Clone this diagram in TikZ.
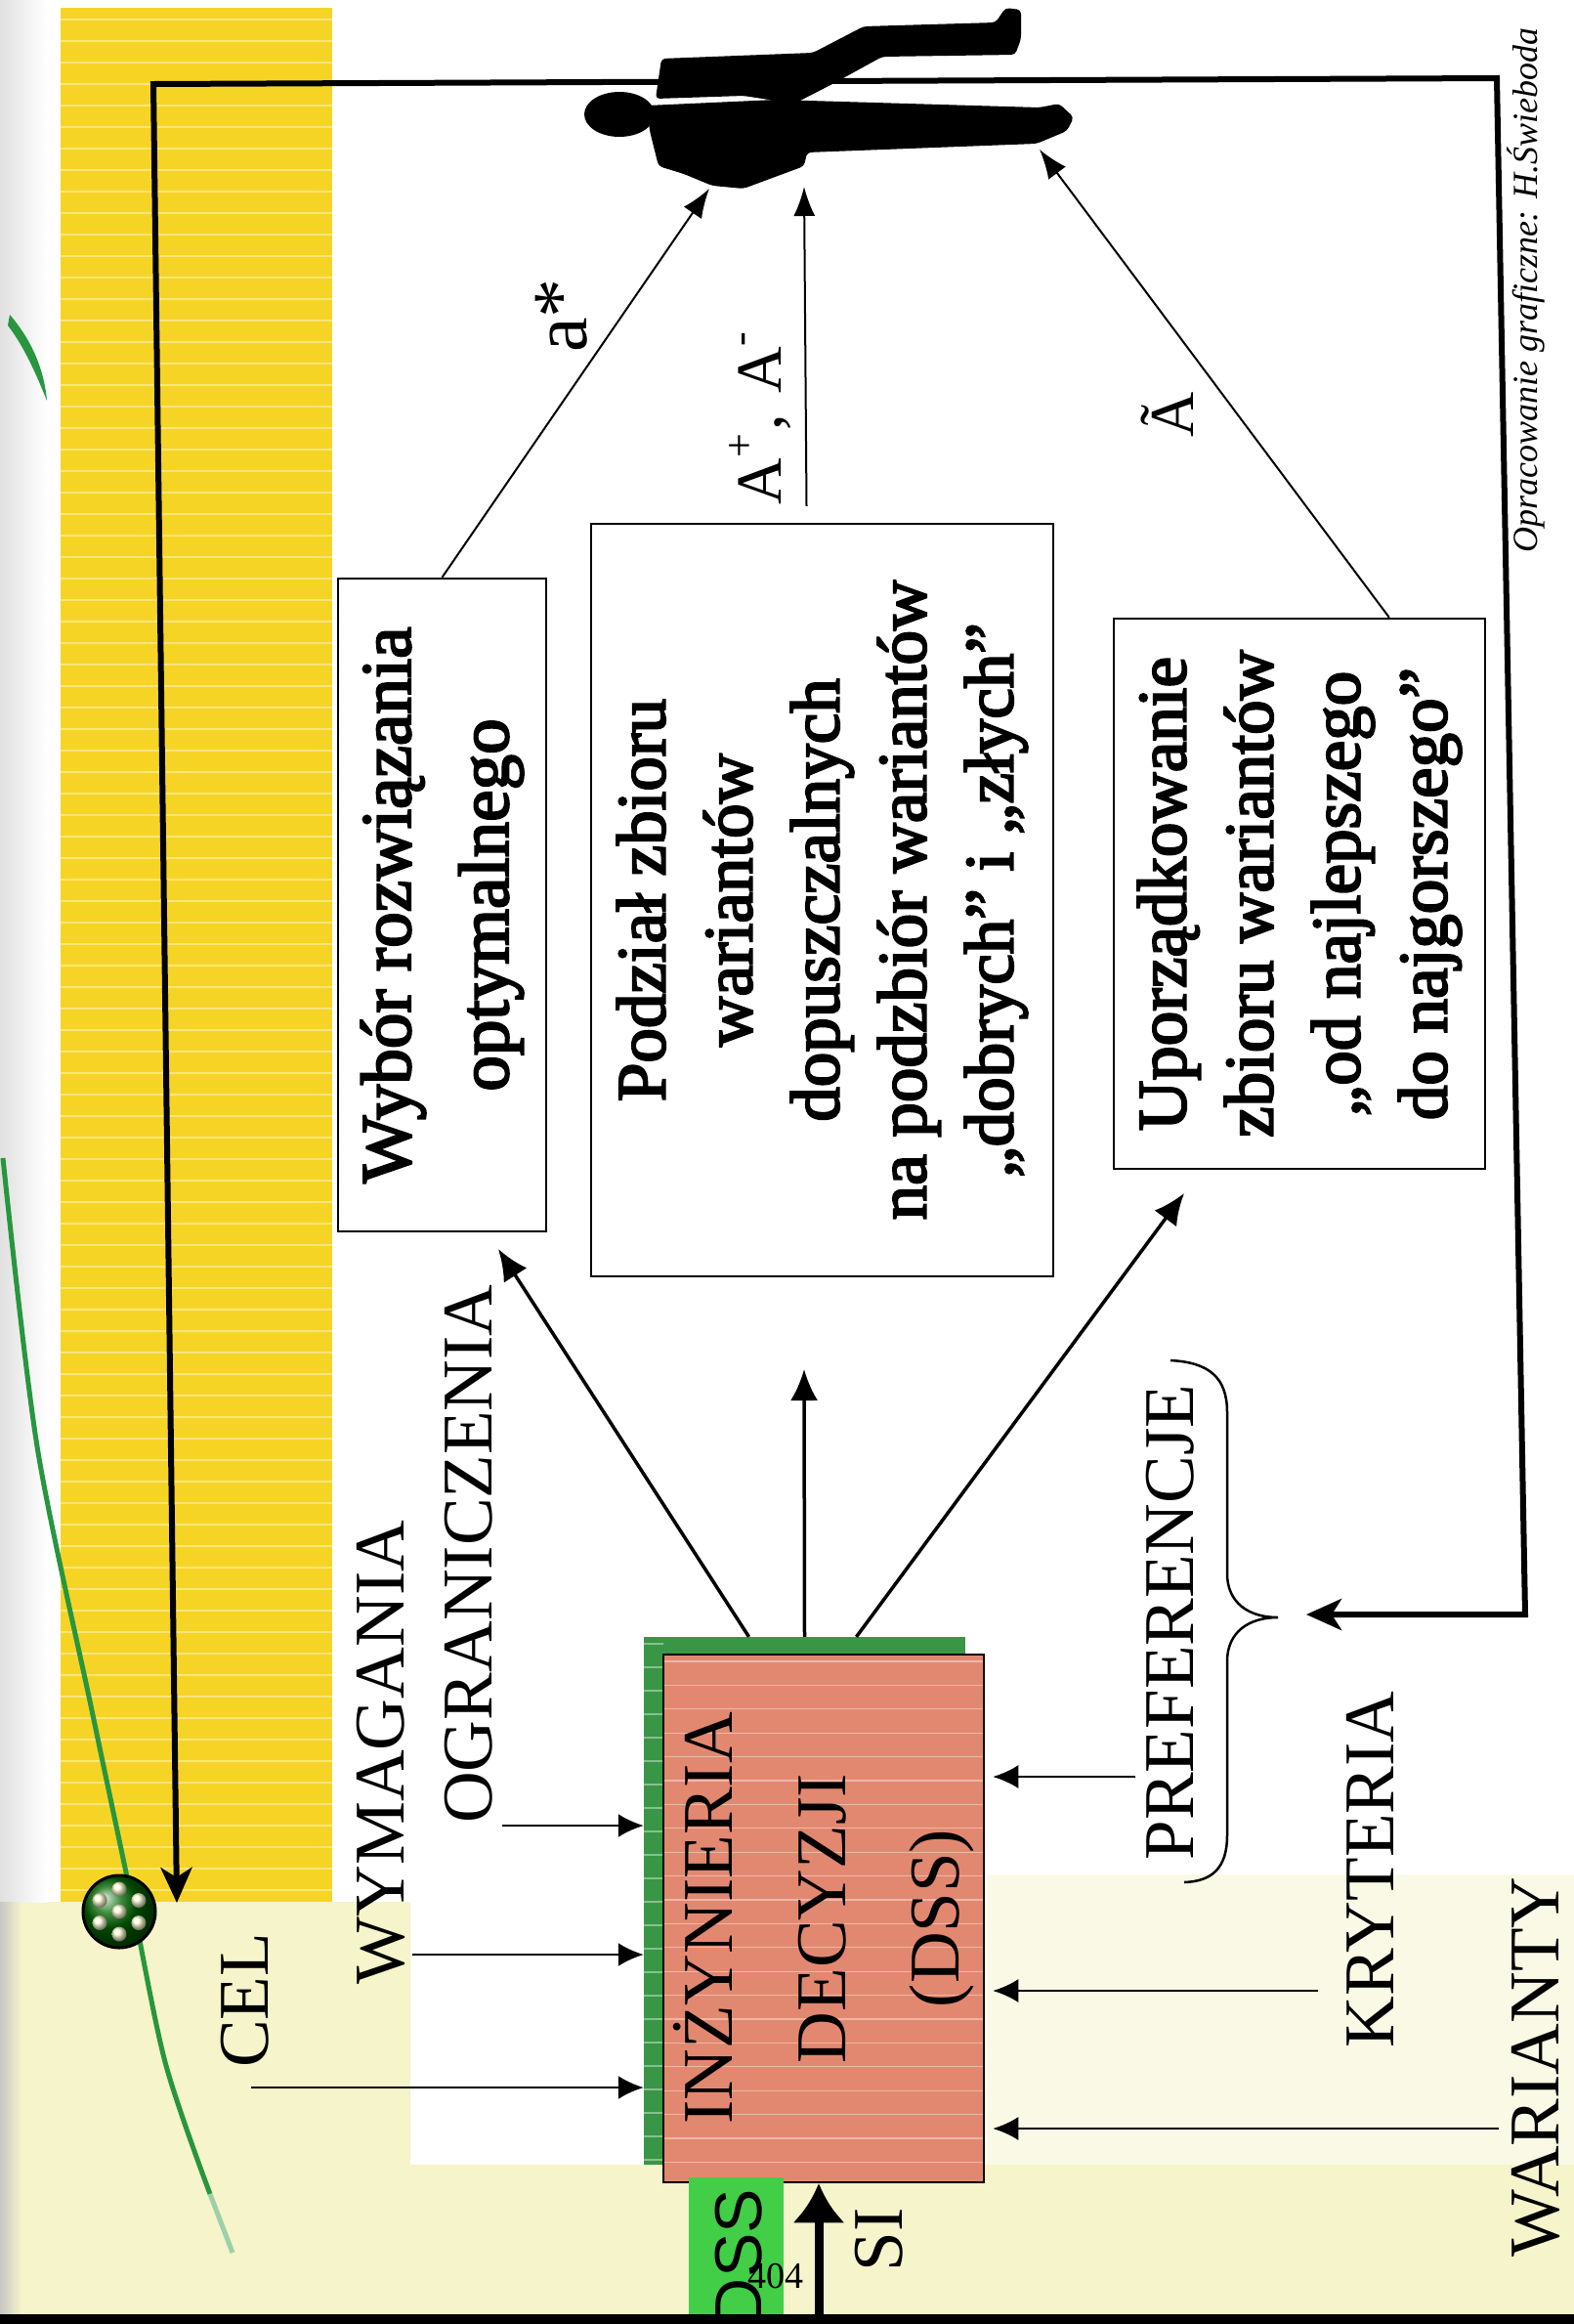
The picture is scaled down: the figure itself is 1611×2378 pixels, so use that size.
\documentclass[tikz,border=0pt]{standalone}
\usepackage{fontspec}
\setmainfont{Liberation Serif}
\newfontfamily\tagfont{Liberation Sans}
\newfontfamily\taskfont[FakeBold=3]{Liberation Serif}
\usetikzlibrary{arrows.meta,calc}

\definecolor{bandyellow}{RGB}{246,212,38}
\definecolor{paleyellow}{RGB}{245,244,202}
\definecolor{palelight}{RGB}{249,249,230}
\definecolor{dssgreen}{RGB}{56,150,70}
\definecolor{dsspink}{RGB}{226,136,112}
\definecolor{taggreen}{RGB}{66,206,70}
\definecolor{curvegreen}{RGB}{40,150,62}

\newcommand\supmark[1]{\raisebox{0.42em}{\fontsize{44}{44}\selectfont #1}}

\begin{document}
\begin{tikzpicture}[x=1pt,y=-1pt,
    lbl/.style={rotate=90,inner sep=0pt,font=\fontsize{73}{80}\selectfont},
    taskbox/.style={draw,line width=2.5pt,rotate=90,align=center,inner sep=0pt,
                    font=\taskfont\fontsize{71}{89}\selectfont},
    inarrow/.style={line width=2.5pt,-{Latex[length=26pt,width=24pt]}},
    outarrow/.style={line width=3.5pt,-{Latex[length=32pt,width=28pt]}},
    toman/.style={line width=2pt,-{Latex[length=30pt,width=22pt]}},
    loopline/.style={line width=6pt,line join=miter,
      {Stealth[length=36pt,width=32pt,inset=10pt]}-{Stealth[length=36pt,width=32pt,inset=10pt]}},
    stripe/.style={white,line width=1.3pt,opacity=.4}]

  \useasboundingbox (0,0) rectangle (1611,2378);

  % page background
  \fill[white] (0,0) rectangle (1611,2378);
  \fill[palelight] (1010,1918) rectangle (1611,2215);
  \fill[paleyellow] (0,1946) rectangle (420,2378);
  \fill[paleyellow] (0,2215) rectangle (1611,2378);
  \shade[left color=black!12,right color=white] (0,0) rectangle (48,1946);
  \shade[left color=black!22,right color=paleyellow] (0,1946) rectangle (22,2368);
  \fill[bandyellow] (62,8) rectangle (340,1946);
  \foreach \yy in {20,42,...,1940}
    \draw[stripe] (62,\yy) -- (340,\yy);

  % orbit
  \fill[curvegreen] (10,322) .. controls (30,345) and (45,375) .. (48,410)
    .. controls (38,385) and (25,355) .. (8,333) -- cycle;
  \draw[curvegreen,line width=5pt] plot[smooth] coordinates
    {(3,1185) (38,1480) (94,1750) (133,1935) (169,2110) (215,2245)};
  \draw[curvegreen!45,line width=5pt] (215,2245) -- (238,2305);

  \coordinate (goal) at (122,1956);
  \shade[ball color=green!40!black] (goal) circle (37pt);
  \draw[line width=3pt] (goal) circle (37pt);
  \foreach \a in {30,90,...,330}
    \shade[ball color=yellow!15] ($(goal)+(\a:23pt)$) circle (7.5pt);
  \shade[ball color=yellow!15] (goal) circle (7.5pt);

  % decision engine
  \node[fill=dssgreen,minimum width=329pt,minimum height=540pt,inner sep=0pt] (dssback) at (823.5,1945) {};
  \foreach \yy in {1682,1706,...,2210}
    \draw[stripe] (659,\yy) -- (679,\yy);
  \fill[dsspink] (679,1693) rectangle (1007,2233);
  \foreach \yy in {1700,1724.4,...,2230}
    \draw[stripe] (679,\yy) -- (1007,\yy);
  \node[taskbox,minimum width=540pt,minimum height=328pt,
        font=\fontsize{73}{116}\selectfont] (dss) at (843,1963) {INŻYNIERIA\\DECYZJI\\(DSS)};

  % tasks
  \node[taskbox,minimum width=668pt,minimum height=213pt,
        font=\taskfont\fontsize{73}{100}\selectfont] (wybor) at (452.5,926) {Wybór rozwiązania\\optymalnego};
  \node[taskbox,minimum width=770pt,minimum height=473pt] (podzial) at (841.5,921)
    {Podział zbioru\\wariantów\\dopuszczalnych\\na podzbiór wariantów\\„dobrych” i „złych”};
  \node[taskbox,minimum width=563pt,minimum height=380pt] (uporz) at (1330,914.5)
    {Uporządkowanie\\zbioru wariantów\\„od najlepszego\\do najgorszego”};

  % inputs
  \node[lbl] (cel)  at (251,2047)  {CEL};
  \node[lbl] (wym)  at (390,1793)  {WYMAGANIA};
  \node[lbl] (ogr)  at (480,1590)  {OGRANICZENIA};
  \node[lbl] (pref) at (1198,1660) {PREFERENCJE};
  \node[lbl] (kryt) at (1402,1913) {KRYTERIA};
  \node[lbl] (war)  at (1572,2115) {WARIANTY};

  \coordinate (celfrom)  at (257,2136);
  \coordinate (wymfrom)  at (422,2000);
  \coordinate (ogrfrom)  at (514,1868);
  \coordinate (preffrom) at (1162,1818);
  \coordinate (krytfrom) at (1349,2037);
  \coordinate (warfrom)  at (1534,2178);

  \draw[inarrow] (celfrom) -- (celfrom -| dssback.west);
  \draw[inarrow] (wymfrom) -- (wymfrom -| dssback.west);
  \draw[inarrow] (ogrfrom) -- (ogrfrom -| dssback.west);
  \draw[inarrow,shorten >=8pt] (preffrom) -- (preffrom -| dss.south);
  \draw[inarrow,shorten >=8pt] (krytfrom) -- (krytfrom -| dss.south);
  \draw[inarrow,shorten >=8pt] (warfrom) -- (warfrom -| dss.south);

  % outputs
  \coordinate (tipa) at (510,1278);
  \coordinate (tipb) at (823,1401);
  \coordinate (tipc) at (1212,1221);
  \draw[outarrow] ($(dssback.north)+(-57,0)$) -- (tipa);
  \draw[outarrow] (dssback.north) -- (tipb);
  \draw[outarrow] ($(dssback.north)+(53,0)$) -- (tipc);

  % feedback loop
  \coordinate (loopend) at (1337,1652);
  \coordinate (loopbr)  at (1561,1652);
  \coordinate (looptr)  at (1532,80);
  \coordinate (looptl)  at (157,86);
  \coordinate (goaltip) at (181,1947);
  \draw[loopline] (loopend) -- (loopbr) -- (looptr) -- (looptl) -- (goaltip);

  % decision maker
  \fill (634,117) ellipse [x radius=36pt,y radius=23pt];
  \fill[rounded corners=4pt] (671,101) -- (677,60) -- (832,54) -- (884,27) -- (1019,23)
    -- (1029,8) -- (1045,10) -- (1045,40) -- (1039,56) -- (903,58) -- (852,86)
    -- (813,106) -- (761,98) -- cycle;
  \fill[rounded corners=4pt] (662,108) -- (794,102) -- (1064,110) -- (1084,106)
    -- (1099,120) -- (1092,134) -- (1061,147) -- (826,156) -- (823,170) -- (761,193)
    -- (729,190) -- (700,178) -- (674,170) -- (665,134) -- cycle;

  \coordinate (mana) at (726,193);
  \coordinate (manb) at (823,191);
  \coordinate (manc) at (1064,153);
  \draw[toman] (wybor.east) -- (mana);
  \draw[toman] ($(podzial.east)+(-16,-17)$) -- (manb);
  \draw[toman] ($(uporz.south east)!0.26!(uporz.north east)$) -- (manc);

  \node[lbl,font=\fontsize{80}{80}\selectfont] (astar) at (575,323) {a*};
  \node[lbl,font=\fontsize{66}{66}\selectfont] (apm) at (778,428)
    {A\supmark{+}\kern3pt,\hspace{22pt}A\supmark{-}};
  \node[lbl,font=\fontsize{64}{64}\selectfont] (atil) at (1195,424) {Ã};

  % brace
  \coordinate (bracetip) at (1308,1655);
  \draw[line width=2.5pt] (1198,1392) .. controls (1238,1394) and (1256,1410) .. (1256,1445)
    -- (1256,1610) .. controls (1256,1640) and (1278,1655) .. (bracetip)
    .. controls (1278,1655) and (1256,1670) .. (1256,1700)
    -- (1256,1878) .. controls (1256,1912) and (1240,1925) .. (1212,1926);

  \node[rotate=90,font=\fontsize{36}{36}\selectfont\itshape] (credit) at (1562,297)
    {Opracowanie graficzne: H.Świeboda};

  % bottom strip
  \fill[taggreen] (705,2228) rectangle (802,2368);
  \node[rotate=90,anchor=east,inner sep=0pt,font=\tagfont\fontsize{68}{68}\selectfont] (tag)
    at (756,2240) {DSS};
  \node[font=\fontsize{38}{38}\selectfont,inner sep=0pt] (pageno) at (794,2329) {404};
  \coordinate (sibase) at (838,2368);
  \draw[line width=9pt,-{Latex[length=40pt,width=54pt]}] (sibase) -- (sibase |- dss.west);
  \node[lbl] (si) at (900,2292) {SI};
  \fill[black] (0,2368) rectangle (1611,2378);

\end{tikzpicture}
\end{document}
